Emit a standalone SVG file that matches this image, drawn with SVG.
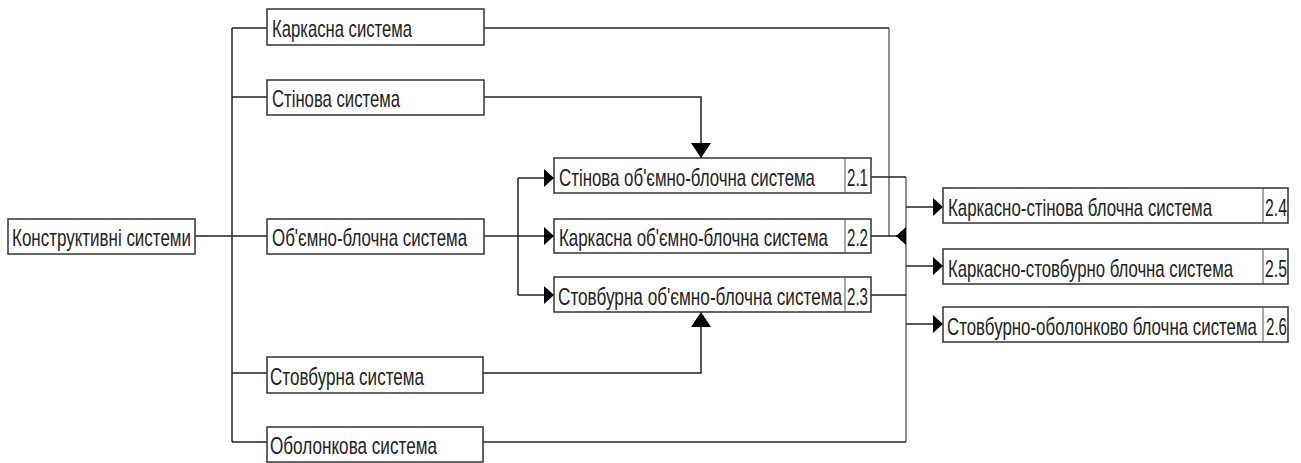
<svg xmlns="http://www.w3.org/2000/svg" width="1301" height="463" viewBox="0 0 1301 463">
<style>
.box{fill:#fff;stroke:#333;stroke-width:1.5}
.div{stroke:#555;stroke-width:1}
.t{font-family:"Liberation Sans",Arial,sans-serif;font-size:23px;fill:#222}
.c{fill:none;stroke:#222;stroke-width:1.5}
.g{fill:none;stroke:#555;stroke-width:1.3}
</style>
<defs>
<marker id="ah" markerUnits="userSpaceOnUse" markerWidth="12" markerHeight="18" refX="10" refY="9" orient="auto">
<path d="M0,0 L10,9 L0,18 Z" fill="#000"/>
</marker>
<marker id="av" markerUnits="userSpaceOnUse" markerWidth="16" markerHeight="22" refX="15" refY="10" orient="auto">
<path d="M0,0 L15,10 L0,20 Z" fill="#000"/>
</marker>
</defs>
<rect width="1301" height="463" fill="#fff"/>
<g id="connectors">
<path class="c" d="M195,236 H267"/>
<path class="c" d="M232,28 V442"/>
<path class="c" d="M232,28 H267 M232,97 H267 M232,373 H267 M232,442 H267"/>
<path class="c" d="M484,28 H889"/>
<path class="g" d="M889,28 V236"/>
<path class="c" d="M484,97 H701 V158" marker-end="url(#av)"/>
<path class="c" d="M484,236 H554" marker-end="url(#ah)"/>
<path class="c" d="M518,178 V295"/>
<path class="c" d="M518,178 H554" marker-end="url(#ah)"/>
<path class="c" d="M518,295 H554" marker-end="url(#ah)"/>
<path class="c" d="M483,373 H701 V312" marker-end="url(#av)"/>
<path class="c" d="M483,442 H906"/>
<path class="g" d="M906,442 V177"/>
<path class="c" d="M871,177 H906"/>
<path class="c" d="M871,236 H906"/>
<path class="c" d="M906,236 H896" marker-end="url(#ah)"/>
<path class="c" d="M871,295 H906"/>
<path class="c" d="M906,207 H943" marker-end="url(#ah)"/>
<path class="c" d="M906,266 H943" marker-end="url(#ah)"/>
<path class="c" d="M906,324 H943" marker-end="url(#ah)"/>
</g>
<g id="n0"><rect class="box" x="8" y="219" width="187" height="35"/><text class="t" transform="translate(12,246) scale(0.76,1)" textLength="235.5" lengthAdjust="spacingAndGlyphs">Конструктивні системи</text></g>
<g id="n1"><rect class="box" x="267" y="9" width="217" height="36"/><text class="t" transform="translate(272,37) scale(0.76,1)" textLength="184.2" lengthAdjust="spacingAndGlyphs">Каркасна система</text></g>
<g id="n2"><rect class="box" x="267" y="80" width="217" height="35"/><text class="t" transform="translate(272,107) scale(0.76,1)" textLength="168.4" lengthAdjust="spacingAndGlyphs">Стінова система</text></g>
<g id="n3"><rect class="box" x="267" y="219" width="217" height="35"/><text class="t" transform="translate(272,246) scale(0.76,1)" textLength="256.6" lengthAdjust="spacingAndGlyphs">Об'ємно-блочна система</text></g>
<g id="n4"><rect class="box" x="267" y="357" width="216" height="36"/><text class="t" transform="translate(270,385) scale(0.76,1)" textLength="202.6" lengthAdjust="spacingAndGlyphs">Стовбурна система</text></g>
<g id="n5"><rect class="box" x="267" y="427" width="216" height="35"/><text class="t" transform="translate(270,454) scale(0.76,1)" textLength="219.7" lengthAdjust="spacingAndGlyphs">Оболонкова система</text></g>
<g id="n21"><rect class="box" x="554" y="158" width="317" height="35"/><line class="div" x1="845" y1="158" x2="845" y2="193"/><text class="t" transform="translate(559,186) scale(0.76,1)" textLength="336.8" lengthAdjust="spacingAndGlyphs">Стінова об'ємно-блочна система</text><text class="t" transform="translate(847,186) scale(0.66,1)" textLength="31.8" lengthAdjust="spacingAndGlyphs">2.1</text></g>
<g id="n22"><rect class="box" x="554" y="219" width="317" height="34"/><line class="div" x1="845" y1="219" x2="845" y2="253"/><text class="t" transform="translate(559,246) scale(0.76,1)" textLength="353.9" lengthAdjust="spacingAndGlyphs">Каркасна об'ємно-блочна система</text><text class="t" transform="translate(847,246) scale(0.66,1)" textLength="31.8" lengthAdjust="spacingAndGlyphs">2.2</text></g>
<g id="n23"><rect class="box" x="554" y="277" width="317" height="35"/><line class="div" x1="845" y1="277" x2="845" y2="312"/><text class="t" transform="translate(558,305) scale(0.76,1)" textLength="373.7" lengthAdjust="spacingAndGlyphs">Стовбурна об'ємно-блочна система</text><text class="t" transform="translate(847,305) scale(0.66,1)" textLength="31.8" lengthAdjust="spacingAndGlyphs">2.3</text></g>
<g id="n24"><rect class="box" x="943" y="188" width="345" height="35"/><line class="div" x1="1263" y1="188" x2="1263" y2="223"/><text class="t" transform="translate(948,216) scale(0.76,1)" textLength="347.4" lengthAdjust="spacingAndGlyphs">Каркасно-стінова блочна система</text><text class="t" transform="translate(1265,216) scale(0.66,1)" textLength="33.3" lengthAdjust="spacingAndGlyphs">2.4</text></g>
<g id="n25"><rect class="box" x="943" y="249" width="345" height="35"/><line class="div" x1="1263" y1="249" x2="1263" y2="284"/><text class="t" transform="translate(948,277) scale(0.76,1)" textLength="375" lengthAdjust="spacingAndGlyphs">Каркасно-стовбурно блочна система</text><text class="t" transform="translate(1265,277) scale(0.66,1)" textLength="33.3" lengthAdjust="spacingAndGlyphs">2.5</text></g>
<g id="n26"><rect class="box" x="943" y="307" width="345" height="35"/><line class="div" x1="1263" y1="307" x2="1263" y2="342"/><text class="t" transform="translate(947,335) scale(0.71,1)" textLength="436.6" lengthAdjust="spacingAndGlyphs">Стовбурно-оболонково блочна система</text><text class="t" transform="translate(1266,335) scale(0.64,1)" textLength="32.8" lengthAdjust="spacingAndGlyphs">2.6</text></g>
</svg>
